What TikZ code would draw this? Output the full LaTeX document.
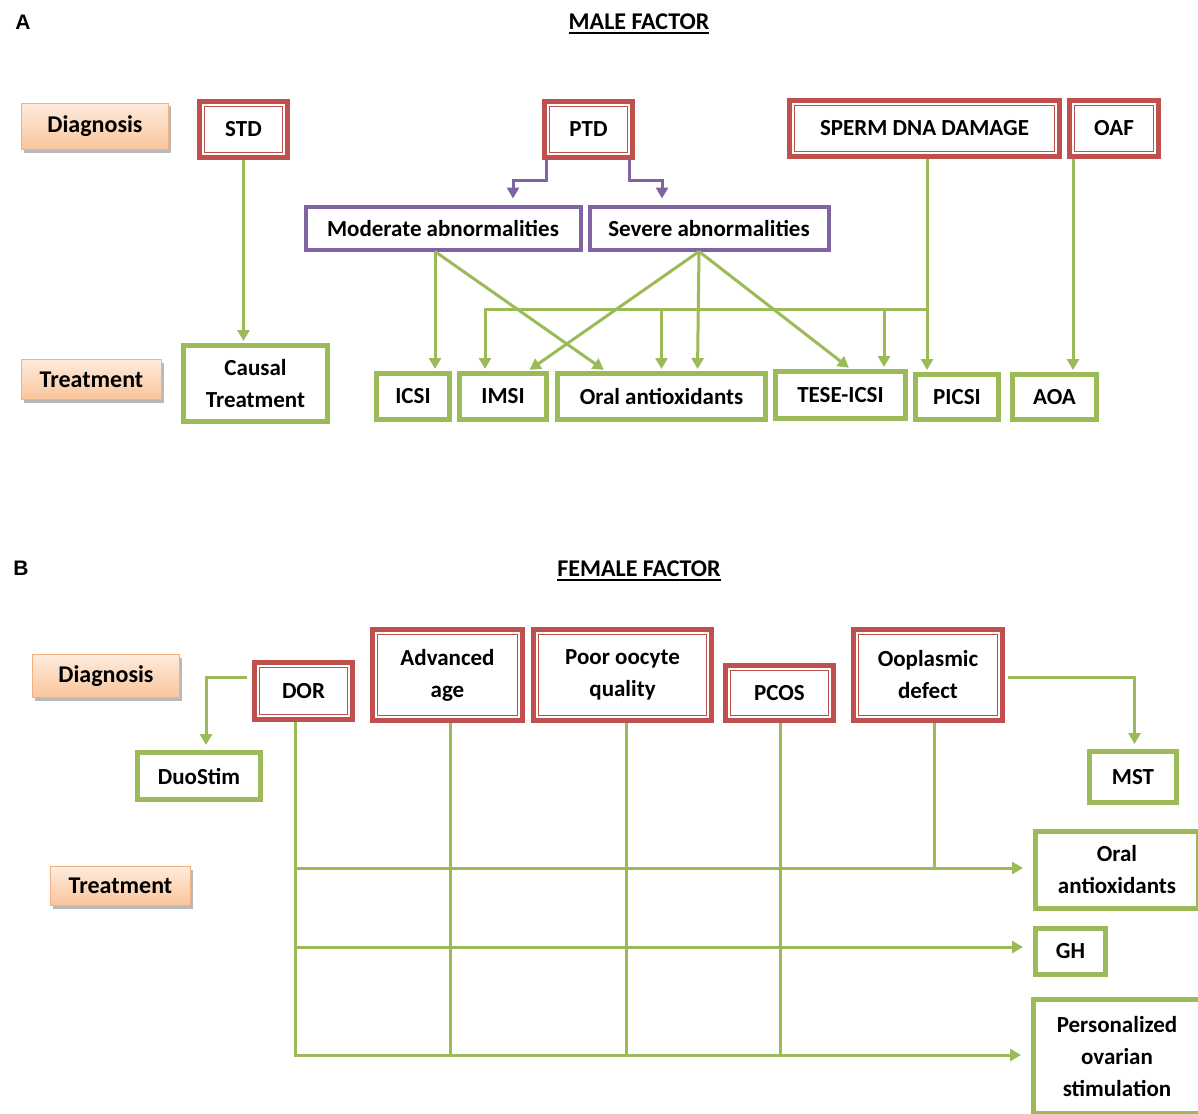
\documentclass[tikz,border=0pt]{standalone}
\usepackage{fontspec}
\setmainfont{Carlito}
\newfontfamily\panelfont{Liberation Sans}
\usetikzlibrary{arrows.meta,shadows}
\definecolor{myred}{HTML}{C0504D}
\definecolor{mygreen}{HTML}{9BBB59}
\definecolor{mypurple}{HTML}{8064A2}
\definecolor{ortop}{HTML}{FEEBDC}
\definecolor{orbot}{HTML}{F9C59B}
\definecolor{orbord}{HTML}{F6B07E}
\newcommand\mkbox[7]{\node[#1, minimum width={(#4)-(#2)-5}, minimum height={(#5)-(#3)-5}] (#6) at ({((#2)+(#4))/2},{((#3)+(#5))/2}) {#7};}
\tikzset{
  base/.style={rectangle, inner sep=0pt, align=center, font=\fontsize{23}{32}\selectfont\bfseries, text=black},
  redbox/.style={base, draw=myred, line width=5.5pt, fill=white,
    path picture={\draw[myred,line width=1.3pt] ([xshift=4.8pt,yshift=4.8pt]path picture bounding box.south west) rectangle ([xshift=-4.8pt,yshift=-4.8pt]path picture bounding box.north east);}},
  greenbox/.style={base, draw=mygreen, line width=5pt, fill=white},
  purplebox/.style={base, draw=mypurple, line width=4pt, fill=white},
  labelbox/.style={base, font=\fontsize{24}{30}\selectfont\bfseries, draw=orbord, line width=1pt, top color=ortop, bottom color=orbot,
    drop shadow={shadow xshift=2pt, shadow yshift=-3pt, fill=black!50, opacity=.55}},
  gline/.style={draw=mygreen, line width=3pt},
  garr/.style={gline, -{Triangle[width=12pt,length=11pt]}, shorten >=2pt},
  parr/.style={draw=mypurple, line width=3pt, -{Triangle[width=12pt,length=11pt]}},
  title/.style={font=\fontsize{24}{24}\selectfont\bfseries, inner sep=0pt, anchor=base},
  panellabel/.style={inner sep=0pt, anchor=base},
}
\begin{document}
\begin{tikzpicture}[x=1pt,y=-1pt]
\useasboundingbox (0,0) rectangle (1198,1113);
\fill[white] (0,0) rectangle (1198,1113);
\clip (0,0) rectangle (1198,1113);

% ---------- headings ----------
\node[panellabel] (la) at (23,30) {\panelfont\bfseries\fontsize{21}{21}\selectfont A};
\node[title] (mt) at (639,30) {MALE FACTOR};
\draw[line width=2pt] ([yshift=-3.5pt]mt.base west) -- ([yshift=-3.5pt]mt.base east);
\node[panellabel] (lb) at (21,575) {\panelfont\bfseries\fontsize{21}{21}\selectfont B};
\node[title] (ft) at (639,576) {FEMALE FACTOR};
\draw[line width=2pt] ([yshift=-3.5pt]ft.base west) -- ([yshift=-3.5pt]ft.base east);

% ---------- A: male factor ----------
\mkbox{labelbox}{19}{101}{171}{152}{diag1}{Diagnosis}
\mkbox{labelbox}{19}{357}{164}{402}{treat1}{Treatment}
\mkbox{redbox}{197}{99}{290}{160}{std}{STD}
\mkbox{redbox}{542}{99}{635}{160}{ptd}{PTD}
\mkbox{redbox}{787}{98}{1062}{159}{sperm}{SPERM DNA DAMAGE}
\mkbox{redbox}{1067}{98}{1161}{159}{oaf}{OAF}
\mkbox{purplebox}{303}{204}{583}{252}{mod}{Moderate abnormalities}
\mkbox{purplebox}{587}{204}{831}{252}{sev}{Severe abnormalities}
\mkbox{greenbox}{181}{343}{330}{424}{causal}{Causal\\Treatment}
\mkbox{greenbox}{374}{371}{452}{422}{icsi}{ICSI}
\mkbox{greenbox}{457}{371}{549}{422}{imsi}{IMSI}
\mkbox{greenbox}{555}{371}{768}{422}{oral}{Oral antioxidants}
\mkbox{greenbox}{773}{369}{908}{421}{tese}{TESE-ICSI}
\mkbox{greenbox}{913}{372}{1001}{422}{picsi}{PICSI}
\mkbox{greenbox}{1010}{372}{1099}{422}{aoa}{AOA}

\draw[garr] (std.south) -- (std.south |- causal.north);
\draw[parr] ([xshift=-42.5pt]ptd.south) -- ++(0,20) -| ([xshift=70pt,yshift=6pt]mod.north);
\draw[parr] ([xshift=40.5pt]ptd.south) -- ++(0,20) -| ([xshift=-47pt,yshift=6pt]sev.north);

\coordinate (mo) at ([xshift=-8pt]mod.south);
\coordinate (so) at ([xshift=-10pt]sev.south);
\draw[garr] (mo) -- (mo |- icsi.north);
\draw[garr] (mo) -- ([xshift=-56pt]oral.north);
\draw[garr] (so) -- ([xshift=25pt]imsi.north);
\draw[garr] (so) -- ([xshift=36pt]oral.north);
\draw[garr] (so) -- ([xshift=10pt]tese.north);

\coordinate (sd) at ([xshift=2.5pt]sperm.south);
\coordinate (hj) at ([yshift=-150pt]sd);
\coordinate (tesein) at ([xshift=43.5pt]tese.north);
\draw[garr] (sd) -- (sd |- picsi.north);
\draw[garr] (hj) -| ([xshift=-18pt]imsi.north);
\draw[garr] (hj -| oral.north) -- (oral.north);
\draw[garr] (hj -| tesein) -- (tesein);
\draw[garr] ([xshift=-41pt]oaf.south) -- ([xshift=-41pt]oaf.south |- aoa.north);

% ---------- B: female factor ----------
\mkbox{labelbox}{30}{652}{182}{700}{diag2}{Diagnosis}
\mkbox{labelbox}{48}{864}{193}{908}{treat2}{Treatment}
\mkbox{redbox}{252}{660}{355}{722}{dor}{DOR}
\mkbox{redbox}{370}{627}{525}{723}{adv}{Advanced\\age}
\mkbox{redbox}{531}{627}{714}{723}{poor}{Poor oocyte\\quality}
\mkbox{redbox}{723}{663}{836}{723}{pcos}{PCOS}
\mkbox{redbox}{851}{627}{1005}{723}{oop}{Ooplasmic\\defect}
\mkbox{greenbox}{135}{750}{263}{802}{duo}{DuoStim}
\mkbox{greenbox}{1087}{749}{1179}{805}{mst}{MST}
\mkbox{greenbox}{1033}{829}{1201}{911}{oralf}{Oral\\antioxidants}
\mkbox{greenbox}{1033}{926}{1108}{977}{gh}{GH}
\mkbox{greenbox}{1031}{997}{1203}{1116}{pers}{Personalized\\ovarian\\stimulation}

\draw[garr, shorten >=5pt] ([xshift=-5pt,yshift=14pt]dor.west) -| ([xshift=7pt]duo.north);
\draw[garr, shorten >=5pt] ([xshift=3pt,yshift=-2pt]oop.east) -| ([xshift=1.5pt]mst.north);

\coordinate (d0) at ([xshift=-8.5pt]dor.south);
\coordinate (a0) at ([xshift=2.5pt]adv.south);
\coordinate (p0) at ([xshift=3.5pt]poor.south);
\coordinate (c0) at ([xshift=1pt]pcos.south);
\coordinate (o0) at ([xshift=6pt]oop.south);
\coordinate (r1) at ([yshift=2pt]oralf.west);
\coordinate (r2) at ([yshift=4.5pt]gh.west);
\coordinate (r3) at ([yshift=1.5pt]pers.west);

\draw[gline] (a0) -- (a0 |- r3);
\draw[gline] (p0) -- (p0 |- r3);
\draw[gline] (c0) -- (c0 |- r3);
\draw[gline] (o0) -- (o0 |- r1);
\draw[garr, shorten >=10pt] (d0) |- (r3);
\draw[garr, shorten >=10pt] (d0 |- r1) -- (r1);
\draw[garr, shorten >=10pt] (d0 |- r2) -- (r2);
\end{tikzpicture}
\end{document}
